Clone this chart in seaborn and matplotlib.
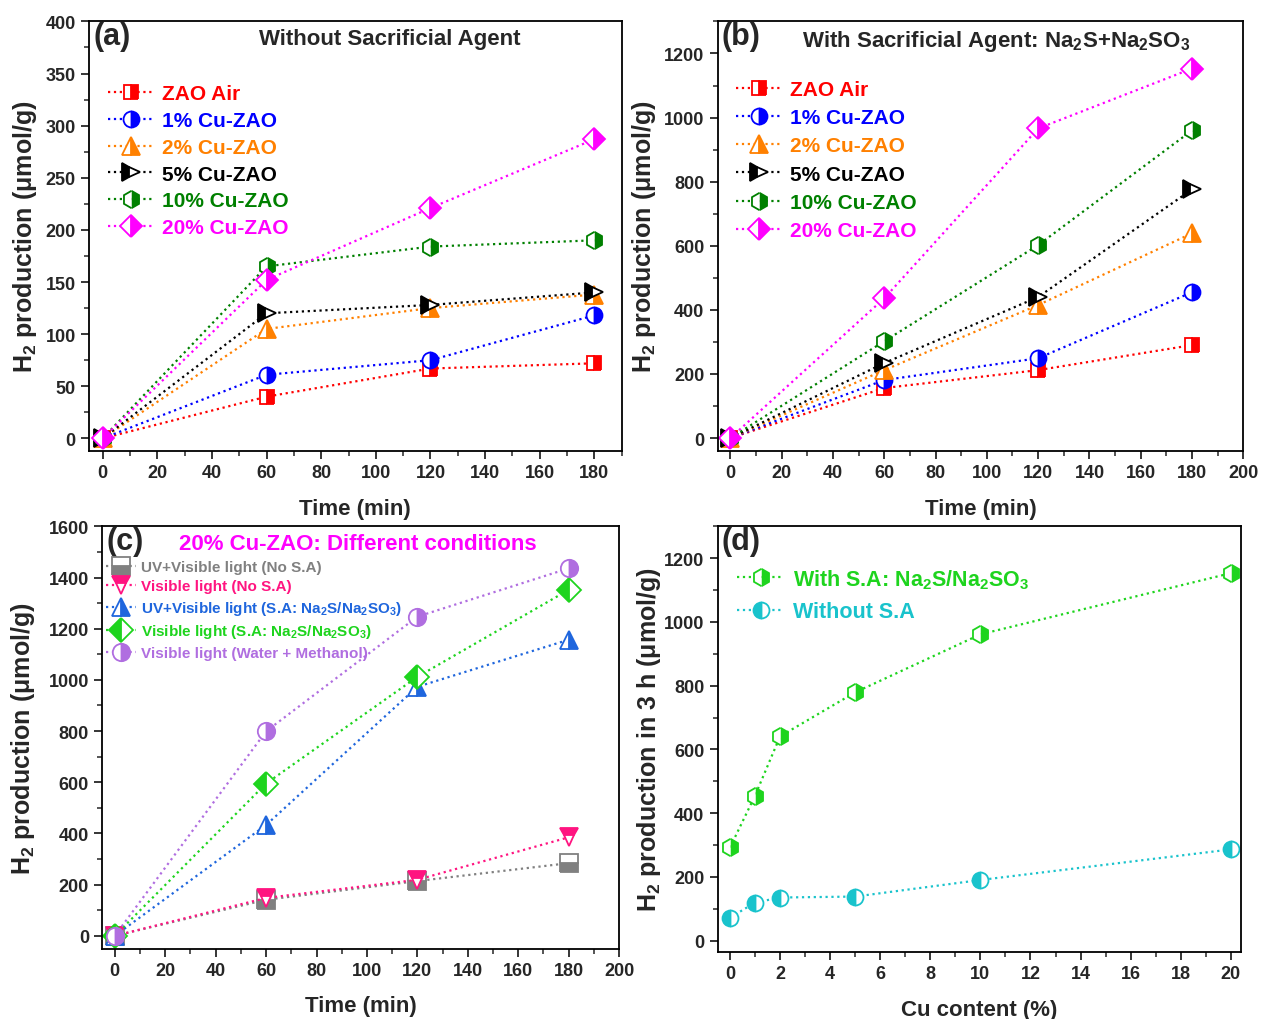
import matplotlib
matplotlib.use("Agg")
import matplotlib.pyplot as plt
import seaborn as sns
from matplotlib.ticker import MultipleLocator

# ---------------- data ----------------
time_min = [0, 60, 120, 180]

labels_ab = ["ZAO Air", "1% Cu-ZAO", "2% Cu-ZAO", "5% Cu-ZAO", "10% Cu-ZAO", "20% Cu-ZAO"]

# (a) without sacrificial agent
a_zao = [0, 40, 67, 72]
a_cu1 = [0, 61, 75, 118]
a_cu2 = [0, 105, 125, 138]
a_cu5 = [0, 120, 128, 140]
a_cu10 = [0, 165, 184, 190]
a_cu20 = [0, 152, 221, 287]

# (b) with sacrificial agent
b_zao = [0, 156, 212, 290]
b_cu1 = [0, 181, 249, 455]
b_cu2 = [0, 212, 415, 639]
b_cu5 = [0, 234, 440, 776]
b_cu10 = [0, 302, 602, 960]
b_cu20 = [0, 436, 966, 1153]

# (c) 20% Cu-ZAO, different conditions
labels_c = ["UV+Visible light (No S.A)", "Visible light (No S.A)",
            "UV+Visible light (S.A: Na$_2$S/Na$_2$SO$_3$)",
            "Visible light (S.A: Na$_2$S/Na$_2$SO$_3$)",
            "Visible light (Water + Methanol)"]
c_uv_nosa = [0, 141, 214, 284]
c_vis_nosa = [0, 148, 219, 385]
c_uv_sa = [0, 433, 973, 1157]
c_vis_sa = [0, 595, 1012, 1352]
c_vis_meoh = [0, 799, 1247, 1436]

# (d) 3 h production vs Cu content
cu_content = [0, 1, 2, 5, 10, 20]
labels_d = ["With S.A: Na$_2$S/Na$_2$SO$_3$", "Without S.A"]
d_with_sa = [292, 455, 641, 779, 961, 1153]
d_without_sa = [72, 119, 135, 138, 190, 286]

# ---------------- style ----------------
sns.set_theme(style="ticks")
plt.rcParams["font.family"] = ["Liberation Sans", "DejaVu Sans"]
plt.rcParams["font.weight"] = "bold"
plt.rcParams["axes.labelweight"] = "bold"
plt.rcParams["mathtext.fontset"] = "custom"
plt.rcParams["mathtext.rm"] = "Liberation Sans:bold"
plt.rcParams["mathtext.bf"] = "Liberation Sans:bold"
plt.rcParams["mathtext.default"] = "bf"
plt.rcParams["axes.linewidth"] = 1.3
plt.rcParams["xtick.direction"] = "out"
plt.rcParams["ytick.direction"] = "out"

fig = plt.figure(figsize=(12.61, 10.20), dpi=100)
ax_a = fig.add_axes([0.0706, 0.557, 0.4224, 0.421])
ax_b = fig.add_axes([0.569, 0.557, 0.417, 0.421])
ax_c = fig.add_axes([0.081, 0.069, 0.410, 0.414])
ax_d = fig.add_axes([0.569, 0.066, 0.415, 0.417])


def draw(ax, x, y, label, color, marker, fill, ms=11):
    sns.lineplot(x=x, y=y, ax=ax, color=color, linestyle=":", linewidth=1.6,
                 marker=marker, fillstyle=fill, markersize=ms,
                 markeredgecolor=color, markerfacecolor=color,
                 markerfacecoloralt="white", markeredgewidth=1.3,
                 label=label, sort=False, estimator=None)


def style_axes(ax, xmaj, xmin, ymaj, ymin, xlim, ylim):
    ax.set_xlim(*xlim)
    ax.set_ylim(*ylim)
    ax.xaxis.set_major_locator(MultipleLocator(xmaj))
    ax.xaxis.set_minor_locator(MultipleLocator(xmin))
    ax.yaxis.set_major_locator(MultipleLocator(ymaj))
    ax.yaxis.set_minor_locator(MultipleLocator(ymin))
    ax.tick_params(which="major", length=6, width=1.3, labelsize=13)
    ax.tick_params(which="minor", length=3.5, width=1.1)
    for lab in ax.get_xticklabels() + ax.get_yticklabels():
        lab.set_fontweight("bold")
    for s in ax.spines.values():
        s.set_visible(True)
        s.set_color("black")


cols_ab = ["#ff0000", "#0000ff", "#ff8000", "#000000", "#008000", "#ff00ff"]
marks_ab = ["s", "o", "^", ">", "h", "D"]
fills_ab = ["right", "right", "right", "left", "right", "right"]
msizes_ab = [10.5, 11.5, 12.5, 12.5, 12.5, 11.5]

for ax, series in ((ax_a, [a_zao, a_cu1, a_cu2, a_cu5, a_cu10, a_cu20]),
                   (ax_b, [b_zao, b_cu1, b_cu2, b_cu5, b_cu10, b_cu20])):
    for y, lab, c, m, f, ms in zip(series, labels_ab, cols_ab, marks_ab, fills_ab, msizes_ab):
        draw(ax, time_min, y, lab, c, m, f, ms)

# (c)
cols_c = ["#808080", "#ff1480", "#1f66dd", "#1ed41e", "#b06ee0"]
marks_c = ["s", "v", "^", "D", "o"]
fills_c = ["bottom", "top", "right", "left", "right"]
for y, lab, c, m, f in zip([c_uv_nosa, c_vis_nosa, c_uv_sa, c_vis_sa, c_vis_meoh],
                           labels_c, cols_c, marks_c, fills_c):
    draw(ax_c, time_min, y, lab, c, m, f, 12.5)

# (d)
draw(ax_d, cu_content, d_with_sa, labels_d[0], "#1ed41e", "h", "right", 12.5)
draw(ax_d, cu_content, d_without_sa, labels_d[1], "#19c3cc", "o", "left", 11.5)

style_axes(ax_a, 20, 10, 50, 25, (-5, 190), (-12, 400))
style_axes(ax_b, 20, 10, 200, 100, (-5, 200), (-40, 1300))
style_axes(ax_c, 20, 10, 200, 100, (-5, 200), (-50, 1600))
style_axes(ax_d, 2, 1, 200, 100, (-0.5, 20.4), (-35, 1300))

ylab = "H$_2$ production (μmol/g)"
for ax, pad in ((ax_a, 5), (ax_b, 4), (ax_c, 8)):
    ax.set_xlabel("Time (min)", fontsize=16, fontweight="bold", labelpad=12)
    ax.set_ylabel(ylab, fontsize=18, fontweight="bold", labelpad=pad)
ax_d.set_xlabel("Cu content (%)", fontsize=16, fontweight="bold", labelpad=12)
ax_d.set_ylabel("H$_2$ production in 3 h (μmol/g)", fontsize=18, fontweight="bold", labelpad=1)

# legends
ax_a.legend(loc="upper left", bbox_to_anchor=(0.0, 0.897), frameon=False,
            labelcolor="linecolor", handlelength=2.2, handletextpad=0.4,
            labelspacing=0.37, prop={"weight": "bold", "size": 15})
ax_b.legend(loc="upper left", bbox_to_anchor=(0.0, 0.907), frameon=False,
            labelcolor="linecolor", handlelength=2.2, handletextpad=0.4,
            labelspacing=0.44, prop={"weight": "bold", "size": 15})
ax_c.legend(loc="upper left", bbox_to_anchor=(-0.02, 0.953), frameon=False,
            labelcolor="linecolor", handlelength=2.0, handletextpad=0.3,
            labelspacing=0.36, prop={"weight": "bold", "size": 11})
ax_d.legend(loc="upper left", bbox_to_anchor=(0.0, 0.95), frameon=False,
            labelcolor="linecolor", handlelength=2.2, handletextpad=0.4,
            labelspacing=0.5, prop={"weight": "bold", "size": 15.5})

# panel letters and titles
for ax, letter in ((ax_a, "(a)"), (ax_b, "(b)"), (ax_c, "(c)"), (ax_d, "(d)")):
    ax.text(0.008, 1.0, letter, transform=ax.transAxes, va="top", ha="left",
            fontsize=22, fontweight="bold")
ax_a.text(0.565, 0.985, "Without Sacrificial Agent", transform=ax_a.transAxes,
          va="top", ha="center", fontsize=16, fontweight="bold")
ax_b.text(0.53, 0.985, "With Sacrificial Agent: Na$_2$S+Na$_2$SO$_3$", transform=ax_b.transAxes,
          va="top", ha="center", fontsize=16, fontweight="bold")
ax_c.text(0.495, 0.985, "20% Cu-ZAO: Different conditions", transform=ax_c.transAxes,
          va="top", ha="center", fontsize=16, fontweight="bold", color="#ff00ff")

fig.savefig("out.png", dpi=100)
